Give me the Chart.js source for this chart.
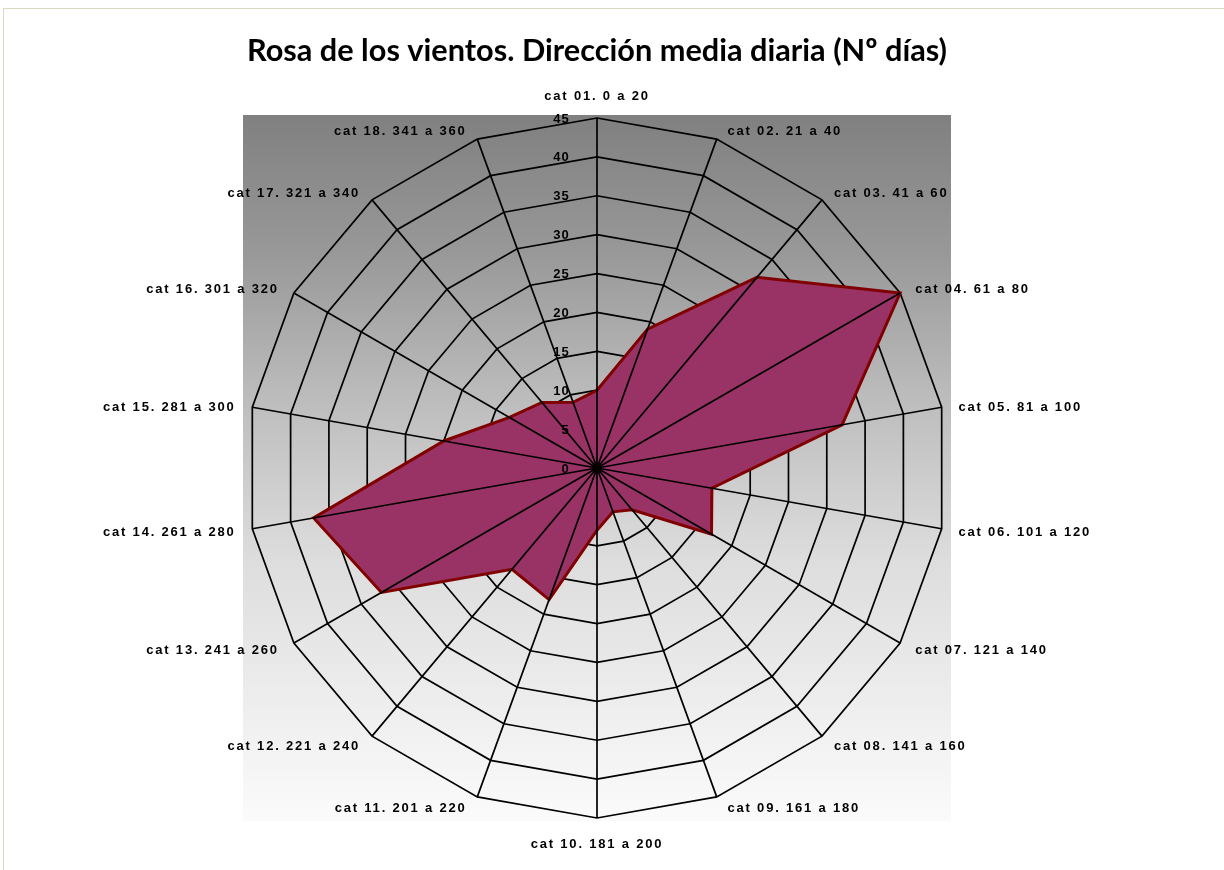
<!DOCTYPE html>
<html>
<head>
<meta charset="utf-8">
<script src="https://cdn.jsdelivr.net/npm/chart.js@4"></script>
<style>
    html, body { margin: 0; padding: 0; background: #fff; }
    #wrap { position: relative; width: 1224px; height: 870px; }
    #frame { position: absolute; left: 3px; top: 8px; width: 1240px; height: 880px; border: 1px solid #dcd8c2; box-sizing: border-box; }
    #myChart { position: absolute; left: 0; top: 0; }
</style>
</head>
<body>
<div id="wrap"><div id="frame"></div><canvas id="myChart"></canvas></div>
<script>
const ctx = document.getElementById('myChart');

var categories = [
    'cat 01. 0 a 20', 'cat 02. 21 a 40', 'cat 03. 41 a 60', 'cat 04. 61 a 80',
    'cat 05. 81 a 100', 'cat 06. 101 a 120', 'cat 07. 121 a 140', 'cat 08. 141 a 160',
    'cat 09. 161 a 180', 'cat 10. 181 a 200', 'cat 11. 201 a 220', 'cat 12. 221 a 240',
    'cat 13. 241 a 260', 'cat 14. 261 a 280', 'cat 15. 281 a 300', 'cat 16. 301 a 320',
    'cat 17. 321 a 340', 'cat 18. 341 a 360'
];
var days = [10, 19, 32, 45, 32, 15, 17, 7, 6, 8, 18, 17, 32, 37, 20, 13, 11, 9];
var tickValues = [0, 5, 10, 15, 20, 25, 30, 35, 40, 45];

var labelFont = 'bold 13px "Liberation Sans", Arial, sans-serif';

// grey gradient square behind the web
const backdrop = {
    id: 'backdrop',
    beforeDraw(chart) {
        const s = chart.scales.r, c = chart.ctx;
        const half = s.drawingArea + 3;
        const top = s.yCenter - half;
        const g = c.createLinearGradient(0, top, 0, top + 2 * half);
        g.addColorStop(0, '#808080');
        g.addColorStop(0.2, '#999999');
        g.addColorStop(0.4, '#bcbcbc');
        g.addColorStop(0.63, '#dddddd');
        g.addColorStop(1, '#fbfbfb');
        c.save();
        c.fillStyle = g;
        c.fillRect(s.xCenter - half - 1, top, 2 * half + 2, 2 * half);
        c.restore();
    }
};

// spokes go over the filled area, rings stay under it
const spokes = {
    id: 'spokes',
    afterDatasetsDraw(chart) {
        const s = chart.scales.r, c = chart.ctx;
        c.save();
        c.strokeStyle = '#000';
        c.lineWidth = 1.7;
        c.beginPath();
        for (let i = 0; i < categories.length; i++) {
            const p = s.getPointPositionForValue(i, s.max);
            c.moveTo(s.xCenter, s.yCenter);
            c.lineTo(p.x, p.y);
        }
        c.stroke();
        c.restore();
    }
};

// point labels and tick numbers, spaced out like the original
const texts = {
    id: 'texts',
    afterDraw(chart) {
        const s = chart.scales.r, c = chart.ctx;
        c.save();
        c.font = labelFont;
        c.fillStyle = '#000';
        c.letterSpacing = '1.8px';
        c.textBaseline = 'middle';
        for (let i = 0; i < categories.length; i++) {
            const theta = i * 2 * Math.PI / categories.length;
            let p = s.getPointPosition(i, s.drawingArea + 14);
            const dx = p.x - s.xCenter;
            let x = p.x, y = p.y;
            if (Math.abs(dx) < 1) {
                p = s.getPointPosition(i, s.drawingArea + 24);
                x = p.x;
                y = p.y + 2;
                c.textAlign = 'center';
            } else {
                const out = 3 + (Math.abs(Math.cos(theta)) > 0.9 ? 3 : 0);
                x += dx > 0 ? out : -out;
                y += 2 + 3.5 * Math.cos(theta);
                c.textAlign = dx > 0 ? 'left' : 'right';
            }
            c.fillText(categories[i], x, y);
        }
        c.textAlign = 'right';
        c.letterSpacing = '1.2px';
        s.ticks.forEach(function (t) {
            const y = s.yCenter - s.getDistanceFromCenterForValue(t.value);
            c.fillText(String(t.value), s.xCenter - 27, y + 1);
        });
        c.restore();
    }
};

new Chart(ctx, {
    type: 'radar',
    data: {
        labels: categories,
        datasets: [{
            label: 'Nº días',
            data: days,
            fill: true,
            backgroundColor: '#993366',
            borderColor: '#800000',
            borderWidth: 3,
            pointRadius: 0,
            tension: 0
        }]
    },
    options: {
        responsive: true,
        maintainAspectRatio: false,
        animation: false,
        layout: {
            padding: { left: 247, right: 277, top: 0, bottom: 52 }
        },
        plugins: {
            legend: { display: false },
            tooltip: { enabled: false },
            title: {
                display: true,
                text: 'Rosa de los vientos. Dirección media diaria (Nº días)',
                color: '#000',
                font: { family: 'Lato', size: 31, weight: 'bold', lineHeight: 1.2 },
                padding: { top: 32, bottom: 48.8 }
            }
        },
        scales: {
            r: {
                min: 0,
                max: 45,
                afterBuildTicks: function (scale) {
                    scale.ticks = tickValues.map(function (v) { return { value: v }; });
                },
                ticks: { display: false },
                pointLabels: { display: false },
                angleLines: { display: false },
                grid: { circular: false, color: '#000', lineWidth: 1.7 }
            }
        }
    },
    plugins: [backdrop, spokes, texts]
});
</script>
</body>
</html>
